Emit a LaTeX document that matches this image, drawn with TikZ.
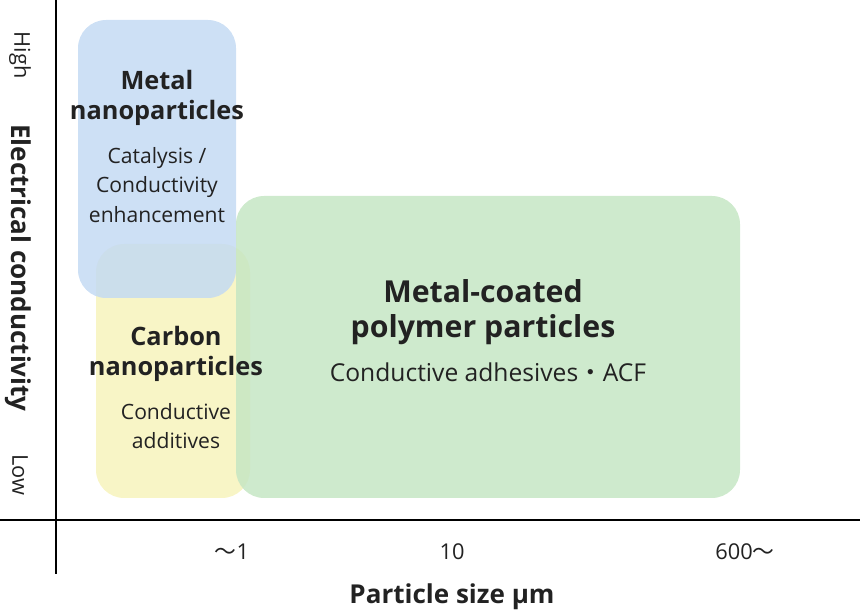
\documentclass[tikz,border=0pt]{standalone}
\usepackage{fontspec}
\setmainfont{Open Sans}
\newfontfamily\cjk{Noto Sans CJK JP}
\definecolor{blueBox}{HTML}{C4DAF3}
\definecolor{yellowBox}{HTML}{F7F3BC}
\definecolor{greenBox}{HTML}{C6E6C4}
\definecolor{textGray}{HTML}{222222}
\begin{document}
\begin{tikzpicture}[x=0.01cm,y=-0.01cm,
    box/.style={rounded corners=8pt,fill opacity=0.85},
    title/.style={font=\fontsize{7.2pt}{8.6pt}\selectfont\bfseries,text=textGray,align=center},
    sub/.style={font=\fontsize{6pt}{8.3pt}\selectfont,text=textGray,align=center},
    axislabel/.style={font=\fontsize{6.2pt}{7pt}\selectfont,text=textGray}]
  \useasboundingbox (0,0) rectangle (860,616);
  % boxes
  \fill[box,yellowBox] (96,244) rectangle (250,498);
  \fill[box,blueBox] (78,20) rectangle (236,298);
  \fill[box,greenBox] (236,196) rectangle (740,498);
  % axes
  \draw[line width=0.6pt] (56,0) -- (56,574);
  \draw[line width=0.6pt] (0,520) -- (860,520);
  % box labels
  \node[title] (metal) at (157,98) {Metal\\nanoparticles};
  \node[sub] (metalsub) at (157,185) {Catalysis /\\Conductivity\\enhancement};
  \node[title] (carbon) at (176,354) {Carbon\\nanoparticles};
  \node[sub] (carbonsub) at (176,426) {Conductive\\additives};
  \node[title,font=\fontsize{8.6pt}{10pt}\selectfont\bfseries] (polymer) at (483,312) {Metal-coated\\polymer particles};
  \node[sub,font=\fontsize{7pt}{8pt}\selectfont] (polysub) at (488,372) {Conductive adhesives{\cjk ・}ACF};
  % axis ticks
  \node[axislabel] (t1) at (232,552) {{\cjk ～}1};
  \node[axislabel] (t10) at (452,552) {10};
  \node[axislabel] (t600) at (745,552) {600{\cjk ～}};
  \node[axislabel,font=\fontsize{7.4pt}{8pt}\selectfont\bfseries] (xlabel) at (452,597) {Particle size μm};
  \node[axislabel,rotate=-90] (high) at (20,55) {High};
  \node[axislabel,rotate=-90,font=\fontsize{7.4pt}{8pt}\selectfont\bfseries] (ylabel) at (18,268) {Electrical conductivity};
  \node[axislabel,rotate=-90] (low) at (20,475) {Low};
\end{tikzpicture}
\end{document}
